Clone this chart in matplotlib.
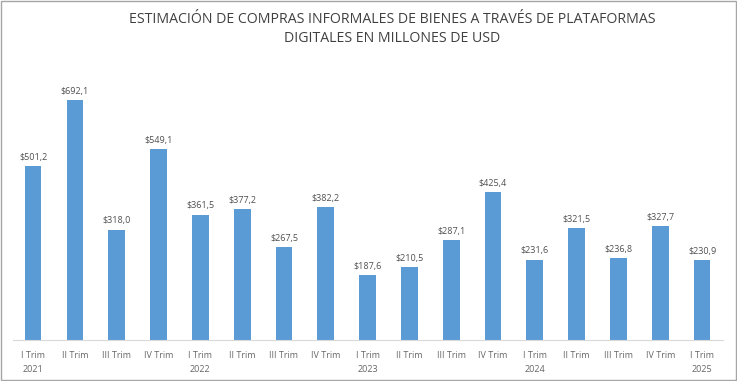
import numpy as np
import matplotlib.pyplot as plt

# quarterly estimates, millions of USD
quarters = ["I Trim\n2021", "II Trim", "III Trim", "IV Trim",
            "I Trim\n2022", "II Trim", "III Trim", "IV Trim",
            "I Trim\n2023", "II Trim", "III Trim", "IV Trim",
            "I Trim\n2024", "II Trim", "III Trim", "IV Trim",
            "I Trim\n2025"]
values = [501.2, 692.1, 318.0, 549.1,
          361.5, 377.2, 267.5, 382.2,
          187.6, 210.5, 287.1, 425.4,
          231.6, 321.5, 236.8, 327.7,
          230.9]

plt.rcParams['font.family'] = ['Open Sans', 'DejaVu Sans']

fig = plt.figure(figsize=(7.37, 3.81), dpi=100)
ax = fig.add_axes([13/737, 41/381, 710/737, 277.6/381])

x = np.arange(len(values))
bars = ax.bar(x, values, width=0.4, color="#5B9BD5")

for xi, v in zip(x, values):
    lbl = "$" + f"{v:.1f}".replace(".", ",")
    ax.text(xi, v + 12, lbl, ha="center", va="bottom", fontsize=6.5, color="#505050")

ax.set_xlim(-0.48, 16.5)
ax.set_ylim(0, 800)
ax.set_xticks(x)
ax.set_xticklabels(quarters, fontsize=6.5, color="#666666", linespacing=1.7)
ax.tick_params(axis="x", length=0, pad=8)
ax.set_yticks([])
for s in ["top", "right", "left"]:
    ax.spines[s].set_visible(False)
ax.spines["bottom"].set_color("#D9D9D9")

fig.text(392/737, 1 - 29/381, "ESTIMACIÓN DE COMPRAS INFORMALES DE BIENES A TRAVÉS DE PLATAFORMAS\nDIGITALES EN MILLONES DE USD",
         ha="center", va="center", fontsize=10.2, color="#404040", linespacing=1.3)

# outer border
fig.patches.append(plt.Rectangle((0.001, 0.002), 0.997, 0.995, transform=fig.transFigure,
                                 fill=False, edgecolor="#A6A6A6", linewidth=1))

fig.savefig("out.png", dpi=100)
